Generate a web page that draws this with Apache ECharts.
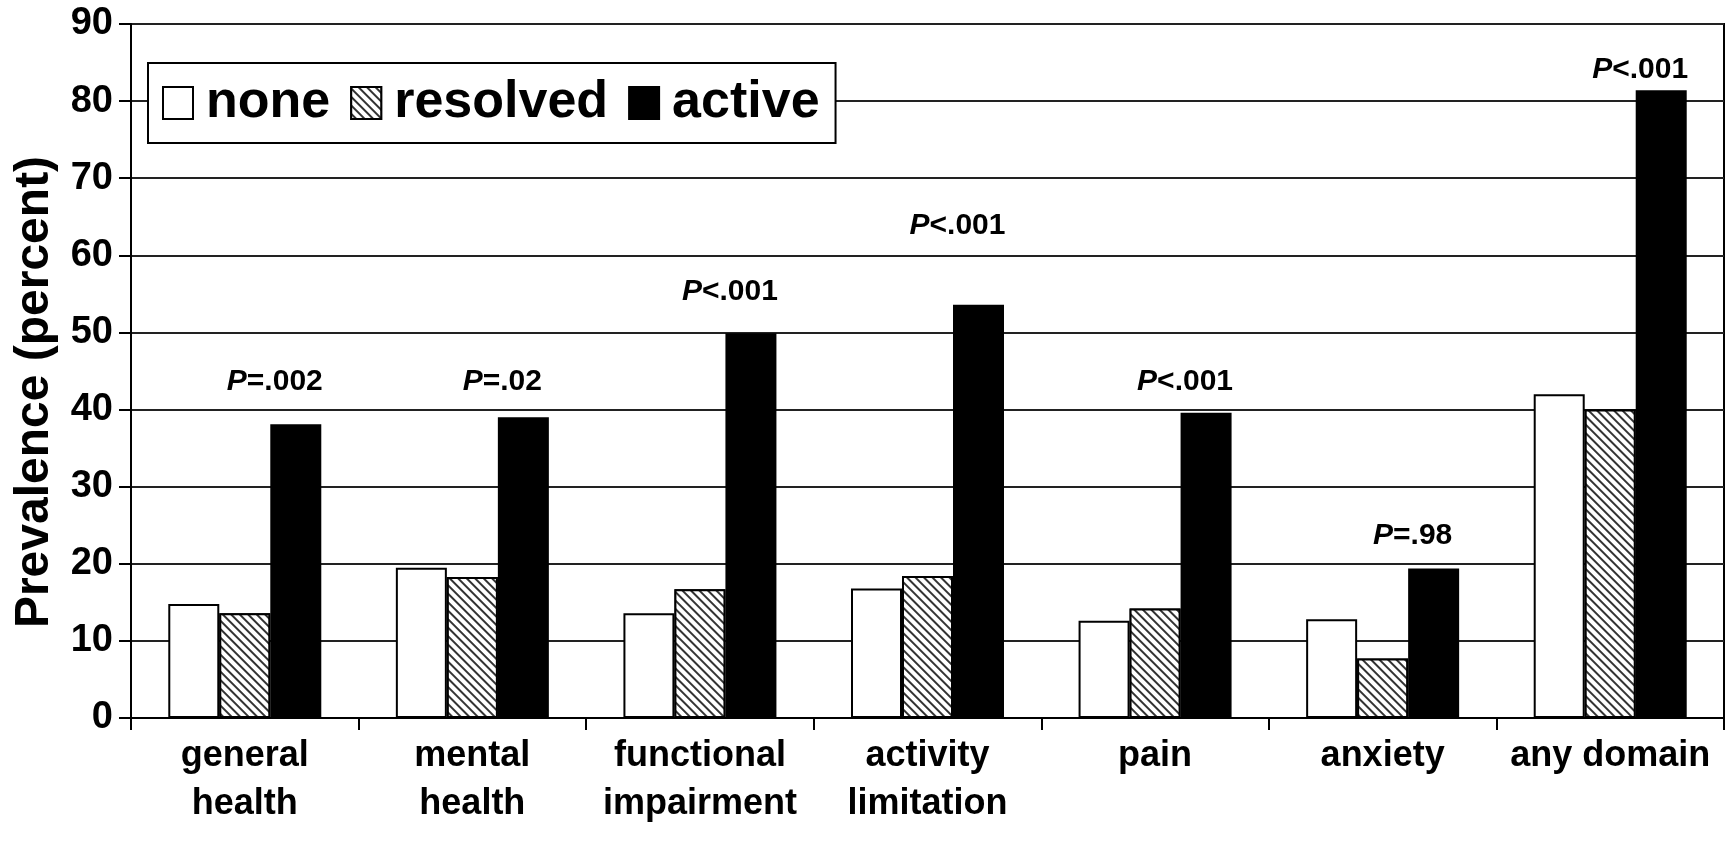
<!DOCTYPE html>
<html>
<head>
<meta charset="utf-8">
<script src="https://cdn.jsdelivr.net/npm/echarts@6/dist/echarts.min.js"></script>
<style>
html,body{margin:0;padding:0;background:#fff;}
#chart{width:1733px;height:850px;}
</style>
</head>
<body>
<div id="chart"></div>
<script>
var categories = ['general\nhealth', 'mental\nhealth', 'functional\nimpairment', 'activity\nlimitation', 'pain', 'anxiety', 'any domain'];
var seriesNames = ['none', 'resolved', 'active'];
var noneValues = [14.8, 19.5, 13.6, 16.8, 12.6, 12.8, 42.0];
var resolvedValues = [13.6, 18.3, 16.7, 18.4, 14.2, 7.7, 40.0];
var activeValues = [38.1, 39.0, 49.9, 53.6, 39.6, 19.4, 81.4];
var pLabels = ['P=.002', 'P=.02', 'P<.001', 'P<.001', 'P<.001', 'P=.98', 'P<.001'];
var pLabelY = [43.6, 43.6, 55.2, 63.8, 43.6, 23.6, 84.0];
var yTicks = [0, 10, 20, 30, 40, 50, 60, 70, 80, 90];

var FONT = '"Liberation Sans", Arial, sans-serif';
var chart = echarts.init(document.getElementById('chart'));

var barBorder = {borderColor: '#000', borderWidth: 2};

chart.setOption({
  animation: false,
  backgroundColor: '#fff',
  grid: {left: 131, right: 9, top: 24, bottom: 132, show: true, borderColor: '#000', borderWidth: 2, backgroundColor: 'transparent'},
  legend: {
    data: seriesNames,
    left: 148, top: 63,
    orient: 'horizontal',
    backgroundColor: '#fff',
    borderColor: '#000', borderWidth: 2,
    padding: [14, 16, 14, 14],
    itemWidth: 30, itemHeight: 32, itemGap: 20,
    icon: 'rect',
    textStyle: {fontFamily: FONT, fontWeight: 'bold', fontSize: 52, color: '#000', padding: [0, 0, 0, 8]},
    selectedMode: false
  },
  xAxis: {
    type: 'category',
    data: categories,
    axisLine: {lineStyle: {color: '#000', width: 2}},
    axisTick: {show: true, length: 12, inside: false, lineStyle: {color: '#000', width: 2}, alignWithLabel: false},
    axisLabel: {fontFamily: FONT, fontWeight: 'bold', fontSize: 36, color: '#000', margin: 14, lineHeight: 48, interval: 0}
  },
  yAxis: {
    type: 'value',
    min: 0, max: 90, interval: 10,
    name: 'Prevalence (percent)',
    nameLocation: 'middle',
    nameGap: 72,
    nameTextStyle: {fontFamily: FONT, fontWeight: 'bold', fontSize: 48, color: '#000', padding: [0, 42, 0, 0]},
    axisLine: {show: true, lineStyle: {color: '#000', width: 2}},
    axisTick: {show: true, length: 12, lineStyle: {color: '#000', width: 2}},
    axisLabel: {fontFamily: FONT, fontWeight: 'bold', fontSize: 38, color: '#000', margin: 18,
      formatter: function (v) { return yTicks.indexOf(v) >= 0 ? String(v) : ''; }},
    splitLine: {show: true, lineStyle: {color: '#222', width: 2}}
  },
  series: [
    {
      name: seriesNames[0], type: 'bar', data: noneValues, barWidth: 51, barGap: '0%',
      itemStyle: Object.assign({color: '#fff'}, barBorder)
    },
    {
      name: seriesNames[1], type: 'bar', data: resolvedValues, barWidth: 51, barGap: '0%',
      itemStyle: Object.assign({
        color: '#fff',
        decal: {symbol: 'rect', symbolSize: 1, color: '#333', backgroundColor: '#fff',
          dashArrayX: [1, 0], dashArrayY: [1.5, 3.5], rotation: Math.PI / 4}
      }, barBorder)
    },
    {
      name: seriesNames[2], type: 'bar', data: activeValues, barWidth: 51, barGap: '0%',
      itemStyle: Object.assign({color: '#000'}, barBorder)
    },
    {
      name: 'pvalues', type: 'scatter', data: pLabelY, symbolSize: 1, silent: true,
      itemStyle: {color: 'rgba(0,0,0,0)'},
      label: {
        show: true, position: 'top', distance: 0, verticalAlign: 'middle', offset: [30, 0],
        color: '#000', opacity: 1, textBorderWidth: 0,
        formatter: function (p) {
          var s = pLabels[p.dataIndex];
          return '{i|' + s.charAt(0) + '}{n|' + s.slice(1) + '}';
        },
        rich: {
          i: {fontFamily: FONT, fontWeight: 'bold', fontStyle: 'italic', fontSize: 30, color: '#000'},
          n: {fontFamily: FONT, fontWeight: 'bold', fontSize: 30, color: '#000'}
        }
      }
    }
  ]
});
</script>
</body>
</html>
